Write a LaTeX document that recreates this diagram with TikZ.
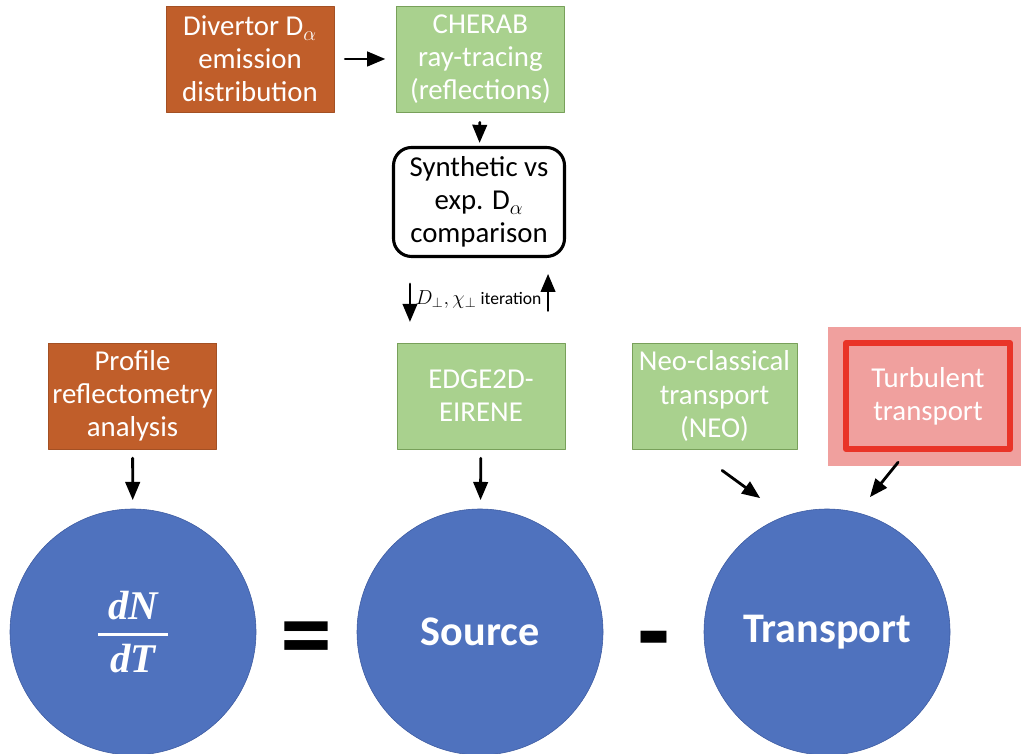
\documentclass[tikz,border=0pt]{standalone}
\usepackage{amsmath}
\usepackage{amssymb}
\usepackage{fontspec}
\setmainfont{Carlito}
\newfontfamily\heavyfont{DejaVu Sans}
\newfontfamily\fracserif{Liberation Serif}
\usepackage{tikz}
\usetikzlibrary{calc}
\usetikzlibrary{arrows}
\definecolor{ccwwqq}{RGB}{192,94,42}
\definecolor{aaddgg}{RGB}{169,209,142}
\definecolor{ggaapp}{RGB}{120,160,90}
\definecolor{qqhhcc}{RGB}{79,114,190}
\definecolor{qqddaa}{RGB}{60,90,160}
\definecolor{ffaaaa}{RGB}{240,160,158}
\definecolor{ffqqqq}{RGB}{233,52,40}
\newcommand{\boxfont}{\fontsize{20.5}{23.5}\selectfont}
\newcommand{\circfont}{\bfseries\fontsize{30}{34}\selectfont}
\newcommand{\fracfont}{\fracserif\bfseries\itshape\fontsize{29}{32}\selectfont}
\newcommand{\smallfont}{\fontsize{12.5}{14}\selectfont}
\newcommand{\signfont}{\heavyfont\bfseries\fontsize{60}{60}\selectfont}
\tikzstyle{every node}=[font=\boxfont]
\tikzstyle{brownbox}=[fill=ccwwqq,draw=ccwwqq!85!black,line width=0.5pt,text=white,align=center,minimum width=4.2cm,minimum height=2.65cm,inner sep=0pt]
\tikzstyle{greenbox}=[fill=aaddgg,draw=ggaapp,line width=0.6pt,text=white,align=center,minimum width=4.2cm,minimum height=2.65cm,inner sep=0pt]
\tikzstyle{bluecirc}=[circle,fill=qqhhcc,draw=qqddaa,line width=0.4pt,text=white,minimum size=6.15cm,inner sep=0pt]
\tikzstyle{bigsign}=[text=black,inner sep=0pt,font=\signfont]

\begin{document}
\begin{tikzpicture}[line cap=round,line join=round,>=triangle 45,x=1.0cm,y=1.0cm]
    \useasboundingbox (0,0) rectangle (25.525,18.825);
    % top row
    \node[brownbox] (divertor) at (6.25,17.35) {Divertor D$_\alpha$\\emission\\distribution};
    \node[greenbox] (cherab) at (12.01,17.35) {CHERAB\\ray-tracing\\(reflections)};
    \node[draw=black,line width=2.2pt,rounded corners=0.45cm,fill=white,align=center,minimum width=4.275cm,minimum height=2.725cm,inner sep=0pt] (synth) at (11.975,13.775) {Synthetic vs\\exp. D$_\alpha$\\comparison};
    % middle row
    \node[brownbox] (profile) at (3.3125,8.925) {Profile\\reflectometry\\analysis};
    \node[greenbox] (edge) at (12.025,8.925) {EDGE2D-\\EIRENE};
    \node[greenbox,minimum width=4.125cm] (neo) at (17.8625,8.925) {Neo-classical\\transport\\(NEO)};
    \node[fill=ffaaaa,minimum width=4.825cm,minimum height=3.475cm,inner sep=0pt] (turbglow) at (23.1125,8.9125) {};
    \node[fill=ffaaaa,draw=ffqqqq,line width=4.3pt,text=white,align=center,minimum width=4.1cm,minimum height=2.65cm,inner sep=0pt] (turbulent) at (23.2,8.925) {Turbulent\\transport};
    % bottom row
    \node[bluecirc,font=\fracfont] (dndt) at (3.325,3.025) {$\displaystyle{\hbox{\ dN\ }\above 2pt\hbox{\ dT\ }}$};
    \node[bluecirc,font=\circfont] (source) at (12.0,3.025) {Source};
    \node[bluecirc,font=\circfont] (transport) at (20.675,3.025) {Transport};
    \node[bigsign] (equal) at (7.66,2.775) {\scalebox{0.82}[1]{=}};
    \node[bigsign] (minus) at (16.35,2.675) {-};
    % arrows
    \draw [->,line width=2pt,shorten <=0.27cm,shorten >=0.27cm] (divertor) -- (cherab);
    \draw [->,line width=2pt,shorten <=0.25cm,shorten >=0.08cm] (cherab) -- (synth);
    \draw [->,line width=2pt,shorten <=0.65cm,shorten >=0.52cm] ([xshift=0.45cm]synth.south west) -- ([xshift=0.45cm]synth.south west |- edge.north);
    \draw [->,line width=2pt,shorten <=0.8cm,shorten >=0.4cm] ([xshift=-0.45cm]synth.south east |- edge.north) -- ([xshift=-0.45cm]synth.south east);
    \node[font=\smallfont] (iterlabel) at (11.96,11.325) {{\fontsize{14}{16}\selectfont$D_{\perp},\chi_{\perp}$}\ iteration};
    \draw [->,line width=2pt,shorten <=0.22cm,shorten >=0.22cm] (profile) -- (dndt);
    \draw [->,line width=2pt,shorten <=0.22cm,shorten >=0.22cm] (edge) -- (source);
    \draw [->,line width=2pt] ($(neo.south)+(0.19,-0.525)$) -- ($(transport)+(-1.675,3.35)$);
    \draw [->,line width=2pt] ($(turbglow.south)+(-0.66,0.1)$) -- ($(transport)+(1.075,3.375)$);
\end{tikzpicture}
\end{document}
